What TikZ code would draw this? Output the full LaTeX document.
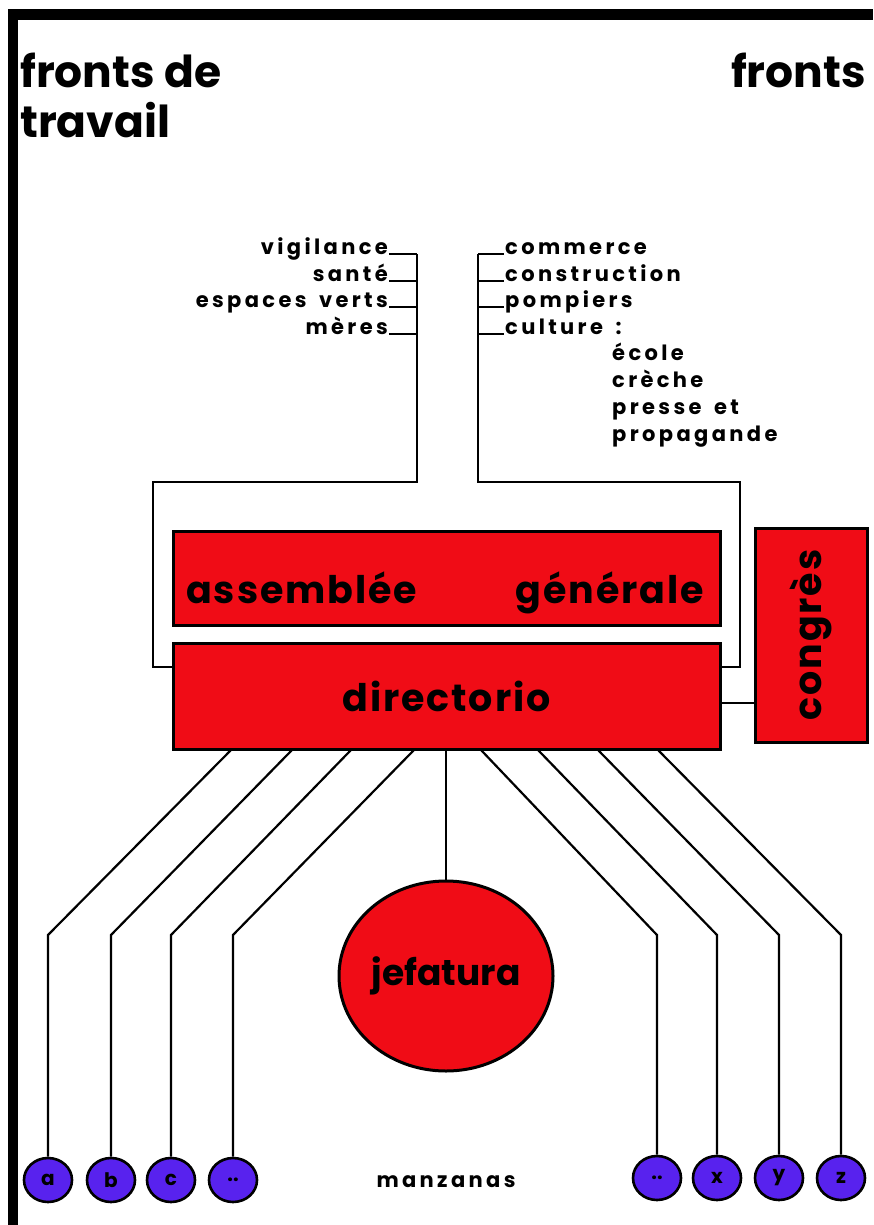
\documentclass[tikz,border=0pt]{standalone}
\usepackage{fontspec}
\setmainfont{Poppins}
\newfontfamily\spacedfont{Poppins}[LetterSpace=16, WordSpace=1.6]
\newfontfamily\boxfont{Poppins}[LetterSpace=5, WordSpace=1.3]
\usetikzlibrary{positioning,shapes.geometric}
\definecolor{boxred}{RGB}{240,12,22}
\definecolor{blockblue}{RGB}{88,34,238}
\tikzset{
    redbox/.style = {draw, line width=3pt, fill=boxred, inner sep=0pt,
        font=\boxfont\bfseries\fontsize{38}{40}\selectfont},
    wire/.style = {line width=2.2pt},
    heading/.style = {inner sep=0pt, font=\bfseries\fontsize{44}{48}\selectfont},
    frontlabel/.style = {inner sep=0pt, font=\spacedfont\bfseries\fontsize{21}{24}\selectfont},
    block/.style = {ellipse, draw, line width=2.6pt, fill=blockblue,
        minimum width=48pt, minimum height=44pt, inner sep=0pt,
        font=\bfseries\fontsize{20}{20}\selectfont}
}
\begin{document}
\begin{tikzpicture}[x=1pt, y=-1pt]
    \useasboundingbox (0,0) rectangle (873,1225);
    % frame
    \fill (8,9) rectangle (873,20);
    \fill (8,9) rectangle (18,1225);
    % titles
    \node [heading, anchor=base west] (ftitle) at (20,88) {fronts de};
    \node [heading, anchor=base west] (ttitle) at (20,138) {travail};
    \node [heading, anchor=base east] (rtitle) at (866,88) {fronts};
    % left fronts
    \node [frontlabel, anchor=base east] (vig) at (388,254) {vigilance};
    \node [frontlabel, anchor=base east] (san) at (388,281) {santé};
    \node [frontlabel, anchor=base east] (esp) at (388,307) {espaces verts};
    \node [frontlabel, anchor=base east] (mer) at (388,334) {mères};
    % right fronts
    \node [frontlabel, anchor=base west] (com) at (505,254) {commerce};
    \node [frontlabel, anchor=base west] (con) at (505,281) {construction};
    \node [frontlabel, anchor=base west] (pom) at (505,307) {pompiers};
    \node [frontlabel, anchor=base west] (cul) at (505,334) {culture :};
    \node [frontlabel, anchor=base west] (eco) at (612,360) {école};
    \node [frontlabel, anchor=base west] (cre) at (612,387) {crèche};
    \node [frontlabel, anchor=base west] (pre) at (612,414) {presse et};
    \node [frontlabel, anchor=base west] (pro) at (612,441) {propagande};
    % boxes
    \node [redbox, minimum width=547pt, minimum height=94pt] (assemblee) at (446.5,578) {};
    \node [anchor=base west, inner sep=0pt, font=\boxfont\bfseries\fontsize{38}{40}\selectfont]
        (asstext) at (186,603) {assemblée};
    \node [anchor=base east, inner sep=0pt, font=\boxfont\bfseries\fontsize{38}{40}\selectfont]
        (gentext) at (704,603) {générale};
    \node [redbox, minimum width=547pt, minimum height=106pt, below=15pt of assemblee]
        (directorio) {directorio};
    \node [redbox, minimum width=214pt, minimum height=112pt, rotate=90] (congres)
        at (811,635) {congrès};
    \node [redbox, ellipse, minimum width=214pt, minimum height=190pt,
        font=\bfseries\fontsize{36}{38}\selectfont] (jefatura) at (446,976) {jefatura};
    % manzanas
    \node [block] (ma) at (48,1180) {a};
    \node [block] (mb) at (111,1180) {b};
    \node [block] (mc) at (171,1180) {c};
    \node [block] (md) at (233,1180) {..};
    \node [block] (me) at (657,1178) {..};
    \node [block] (mx) at (717,1178) {x};
    \node [block] (my) at (779,1178) {y};
    \node [block] (mz) at (841,1178) {z};
    \node [frontlabel] (manz) at (446,1182) {manzanas};
    % left and right feeds
    \coordinate (ltop) at (417,254);
    \coordinate (rtop) at (478,254);
    \draw [wire] (ltop) -- (417,482) -- (153,482) -- (153,667) -- (directorio.west |- 0,667);
    \draw [wire] (rtop) -- (478,482) -- (740,482) -- (740,667) -- (directorio.east |- 0,667);
    \foreach \n in {vig,san,esp,mer}
        \draw [wire] ([xshift=1pt]\n.base east) -- (\n.base east -| ltop);
    \foreach \n in {com,con,pom,cul}
        \draw [wire] (\n.base west -| rtop) -- ([xshift=-1pt]\n.base west);
    % congres link
    \draw [wire] (directorio.east |- 0,703) -- (congres.north |- 0,703);
    % fan to manzanas
    \coordinate (fanline) at (0,935);
    \foreach \dx/\m in {59/ma, 120/mb, 179/mc, 242/md, 310/me, 367/mx, 427/my, 487/mz}
        \draw [wire] ([xshift=\dx pt]directorio.south west) -- (\m.north |- fanline) -- (\m.north);
    \draw [wire] (directorio.south -| jefatura.north) -- (jefatura.north);
\end{tikzpicture}
\end{document}
